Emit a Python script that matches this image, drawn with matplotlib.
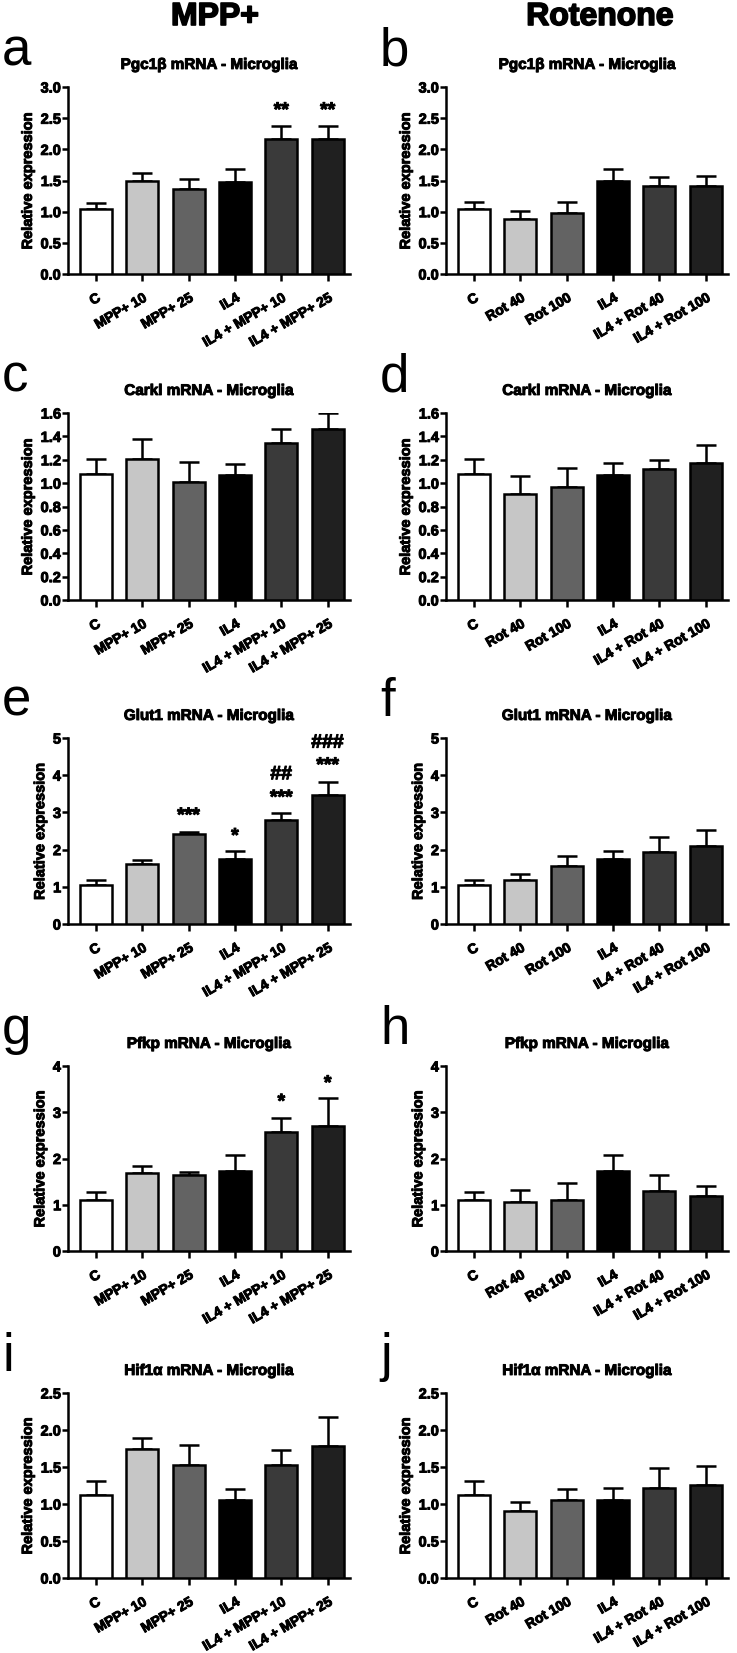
import numpy as np
import matplotlib
matplotlib.use("Agg")
import matplotlib.pyplot as plt
import matplotlib.patheffects as pe
from matplotlib import font_manager
from matplotlib.transforms import ScaledTranslation

names = sorted({f.name for f in font_manager.fontManager.ttflist})
narrow = 'Liberation Sans Narrow' if 'Liberation Sans Narrow' in names else 'Liberation Sans'
print(narrow)
plt.rcParams['font.family'] = [narrow, 'Liberation Sans', 'DejaVu Sans']
plt.rcParams['font.weight'] = 'bold'

# Categories
mpp_labels = ['C', 'MPP+ 10', 'MPP+ 25', 'IL4', 'IL4 + MPP+ 10', 'IL4 + MPP+ 25']
rot_labels = ['C', 'Rot 40', 'Rot 100', 'IL4', 'IL4 + Rot 40', 'IL4 + Rot 100']
bar_colors = ['#ffffff', '#c6c6c6', '#636363', '#000000', '#3a3a3a', '#202020']

# Means and upper error (mean + SEM)
pgc_mpp = [1.04, 1.49, 1.37, 1.48, 2.17, 2.17]
pgc_mpp_top = [1.14, 1.62, 1.52, 1.68, 2.38, 2.38]
pgc_rot = [1.05, 0.89, 0.98, 1.49, 1.41, 1.41]
pgc_rot_top = [1.15, 1.01, 1.15, 1.69, 1.55, 1.57]

carkl_mpp = [1.08, 1.21, 1.01, 1.07, 1.34, 1.46]
carkl_mpp_top = [1.21, 1.38, 1.18, 1.16, 1.46, 1.60]
carkl_rot = [1.08, 0.91, 0.97, 1.07, 1.12, 1.17]
carkl_rot_top = [1.21, 1.06, 1.13, 1.17, 1.20, 1.33]

glut_mpp = [1.04, 1.61, 2.41, 1.74, 2.80, 3.48]
glut_mpp_top = [1.17, 1.71, 2.48, 1.97, 2.99, 3.82]
glut_rot = [1.04, 1.19, 1.56, 1.74, 1.93, 2.11]
glut_rot_top = [1.17, 1.35, 1.84, 1.97, 2.33, 2.53]

pfkp_mpp = [1.11, 1.69, 1.64, 1.72, 2.57, 2.70]
pfkp_mpp_top = [1.27, 1.84, 1.71, 2.07, 2.88, 3.31]
pfkp_rot = [1.11, 1.05, 1.10, 1.72, 1.30, 1.19]
pfkp_rot_top = [1.27, 1.31, 1.48, 2.07, 1.64, 1.41]

hif_mpp = [1.12, 1.75, 1.53, 1.05, 1.53, 1.78]
hif_mpp_top = [1.31, 1.89, 1.80, 1.20, 1.73, 2.17]
hif_rot = [1.12, 0.91, 1.05, 1.05, 1.22, 1.26]
hif_rot_top = [1.31, 1.03, 1.20, 1.21, 1.49, 1.52]

# significance marks: (bar index, baseline y, text)
sig_a = [(4, 2.54, '**'), (5, 2.54, '**')]
sig_e = [(2, 2.77, '***'), (3, 2.22, '*'), (4, 3.25, '***'),
         (4, 3.89, '##'), (5, 4.12, '***'), (5, 4.74, '###')]
sig_g = [(4, 3.11, '*'), (5, 3.51, '*')]

panels = [
    ('a', 'Pgc1\u03b2 mRNA - Microglia', mpp_labels, pgc_mpp, pgc_mpp_top, 3.0, 0.5, '{:.1f}', sig_a),
    ('b', 'Pgc1\u03b2 mRNA - Microglia', rot_labels, pgc_rot, pgc_rot_top, 3.0, 0.5, '{:.1f}', []),
    ('c', 'Carkl mRNA - Microglia', mpp_labels, carkl_mpp, carkl_mpp_top, 1.6, 0.2, '{:.1f}', []),
    ('d', 'Carkl mRNA - Microglia', rot_labels, carkl_rot, carkl_rot_top, 1.6, 0.2, '{:.1f}', []),
    ('e', 'Glut1 mRNA - Microglia', mpp_labels, glut_mpp, glut_mpp_top, 5, 1, '{:.0f}', sig_e),
    ('f', 'Glut1 mRNA - Microglia', rot_labels, glut_rot, glut_rot_top, 5, 1, '{:.0f}', []),
    ('g', 'Pfkp mRNA - Microglia', mpp_labels, pfkp_mpp, pfkp_mpp_top, 4, 1, '{:.0f}', sig_g),
    ('h', 'Pfkp mRNA - Microglia', rot_labels, pfkp_rot, pfkp_rot_top, 4, 1, '{:.0f}', []),
    ('i', 'Hif1\u03b1 mRNA - Microglia', mpp_labels, hif_mpp, hif_mpp_top, 2.5, 0.5, '{:.1f}', []),
    ('j', 'Hif1\u03b1 mRNA - Microglia', rot_labels, hif_rot, hif_rot_top, 2.5, 0.5, '{:.1f}', []),
]

W, H = 737, 1653
fig = plt.figure(figsize=(W / 100, H / 100), dpi=100)

col_left = [68, 446]
ax_w = 282
row_top = [87, 413, 738, 1066, 1393]
row_bot = [274, 600, 924, 1251, 1578]
shift = ScaledTranslation(5 / 100, 0, fig.dpi_scale_trans)
heavy = [pe.withStroke(linewidth=0.7, foreground='black')]
k_sz = 1.0 / 0.82 if narrow != 'Liberation Sans' else 1.0

for k, (letter, title, labels, vals, tops, ymax, ystep, fmt, sigs) in enumerate(panels):
    r, c = k // 2, k % 2
    x0 = col_left[c]
    ax = fig.add_axes([x0 / W, 1 - row_bot[r] / H, ax_w / W, (row_bot[r] - row_top[r]) / H])
    x = np.arange(len(vals))
    vals = np.array(vals)
    errs = np.array(tops) - vals
    ax.bar(x, vals, width=0.69, color=bar_colors, edgecolor='black', linewidth=1.8, zorder=3)
    ax.errorbar(x, vals, yerr=[np.zeros_like(errs), errs], fmt='none', ecolor='black',
                elinewidth=1.8, capsize=7, capthick=1.8, zorder=2)
    ax.set_xlim(-0.6, 5.48)
    ax.set_ylim(0, ymax)
    ticks = np.arange(0, ymax + ystep / 2, ystep)
    ax.set_yticks(ticks)
    ax.set_yticklabels([fmt.format(t) for t in ticks], fontsize=10.5 * k_sz, fontweight='bold')
    ax.set_xticks(x)
    ax.set_xticklabels(labels, rotation=30, ha='right', va='top', rotation_mode='anchor',
                       fontsize=10 * k_sz, fontweight='bold')
    for lab in ax.get_xticklabels():
        lab.set_transform(lab.get_transform() + shift)
    for lab in ax.get_xticklabels() + ax.get_yticklabels():
        lab.set_path_effects(heavy)
    ax.spines['top'].set_visible(False)
    ax.spines['right'].set_visible(False)
    ax.spines['left'].set_linewidth(1.8)
    ax.spines['bottom'].set_linewidth(1.8)
    ax.tick_params(axis='y', width=1.8, length=4, pad=1)
    ax.tick_params(axis='x', width=1.8, length=5, pad=7)
    ax.set_ylabel('Relative expression', fontsize=10.5 * k_sz, fontweight='bold', labelpad=4,
                  path_effects=heavy)
    ax.set_title(title, fontsize=11 * k_sz, fontweight='bold', pad=13, path_effects=heavy)
    for (i, yv, txt) in sigs:
        ax.text(i, yv, txt, ha='center', va='baseline', fontsize=14, fontweight='bold',
                family='Liberation Sans', clip_on=False, path_effects=heavy)
    fig.text((x0 - 66) / W, 1 - (row_top[r] - 22) / H, letter, fontsize=38,
             fontweight='normal', family='Liberation Sans', ha='left', va='baseline')

fig.text(215 / W, 1 - 17 / H, 'MPP+', fontsize=23, fontweight='bold', family='Liberation Sans',
         ha='center', va='center', path_effects=[pe.withStroke(linewidth=1.2, foreground='black')])
fig.text(600 / W, 1 - 17 / H, 'Rotenone', fontsize=23, fontweight='bold', family='Liberation Sans',
         ha='center', va='center', path_effects=[pe.withStroke(linewidth=1.2, foreground='black')])

fig.savefig('out.png', dpi=100, facecolor='white')
